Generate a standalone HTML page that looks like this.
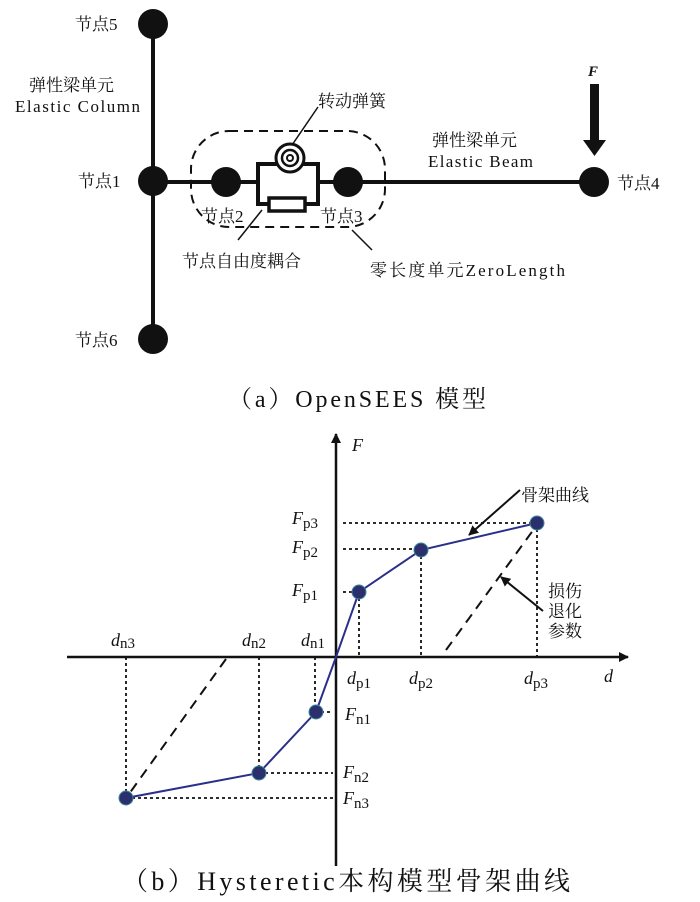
<!DOCTYPE html>
<html><head><meta charset="utf-8"><style>
html,body{margin:0;padding:0;background:#fff;}
svg{display:block;}
text{font-family:"Liberation Serif","Noto Serif CJK SC",serif;fill:#111;}
.it{font-style:italic;}
</style></head><body>
<svg width="700" height="902" viewBox="0 0 700 902" xmlns="http://www.w3.org/2000/svg">
<defs>
<marker id="ah" markerWidth="10" markerHeight="10" refX="9" refY="5" orient="auto" markerUnits="userSpaceOnUse"><path d="M0,0 L10,5 L0,10 Z" fill="#111"/></marker>
</defs>
<!-- Part a -->
<g stroke="#111" fill="none">
<line x1="153" y1="24" x2="153" y2="340" stroke-width="4"/>
<line x1="153" y1="182" x2="258" y2="182" stroke-width="4"/>
<line x1="318" y1="182" x2="594" y2="182" stroke-width="4"/>
<rect x="258" y="164" width="60" height="40" stroke-width="4"/>
<rect x="269" y="198" width="36" height="13" stroke-width="3.5" fill="#fff"/>
<rect x="191" y="131" width="194" height="96" rx="38" stroke-width="2" stroke-dasharray="9,6"/>
<line x1="262" y1="210" x2="238" y2="240" stroke-width="1.5"/>
<line x1="290" y1="148" x2="318" y2="107" stroke-width="1.5"/>
<line x1="352" y1="230" x2="372" y2="250" stroke-width="1.5"/>
</g>
<circle cx="290" cy="158" r="14" fill="#fff" stroke="#111" stroke-width="3"/>
<circle cx="290" cy="158" r="8" fill="none" stroke="#111" stroke-width="2.5"/>
<circle cx="290" cy="158" r="3" fill="none" stroke="#111" stroke-width="2"/>
<g fill="#111">
<circle cx="153" cy="24" r="15"/>
<circle cx="153" cy="181" r="15"/>
<circle cx="153" cy="339" r="15"/>
<circle cx="226" cy="182" r="15"/>
<circle cx="348" cy="182" r="15"/>
<circle cx="594" cy="182" r="15"/>
<rect x="590" y="84" width="9" height="58"/>
<path d="M583,140 L606,140 L594.5,156 Z"/>
</g>
<g font-size="17">
<text x="75" y="30">节点5</text>
<text x="78" y="187">节点1</text>
<text x="75" y="346">节点6</text>
<text x="29" y="91">弹性梁单元</text>
<text x="15" y="112" textLength="125">Elastic Column</text>
<text x="201" y="222">节点2</text>
<text x="320" y="222">节点3</text>
<text x="318" y="107">转动弹簧</text>
<text x="182" y="267">节点自由度耦合</text>
<text x="370" y="276" textLength="195">零长度单元ZeroLength</text>
<text x="432" y="146">弹性梁单元</text>
<text x="428" y="167" textLength="105">Elastic Beam</text>
<text x="617" y="189">节点4</text>
<text x="588" y="76" class="it" font-weight="bold" font-size="15">F</text>
</g>
<text x="228" y="407" font-size="24" textLength="258">（a）OpenSEES 模型</text>
<!-- Part b -->
<g stroke="#111" fill="none">
<line x1="67" y1="657" x2="628" y2="657" stroke-width="2.5" marker-end="url(#ah)"/>
<line x1="336" y1="866" x2="336" y2="434" stroke-width="2.5" marker-end="url(#ah)"/>
<g stroke-width="1.8" stroke-dasharray="3,3">
<line x1="343" y1="523" x2="537" y2="523"/>
<line x1="343" y1="549" x2="421" y2="549"/>
<line x1="343" y1="592" x2="359" y2="592"/>
<line x1="359" y1="592" x2="359" y2="657"/>
<line x1="421" y1="550" x2="421" y2="657"/>
<line x1="537" y1="523" x2="537" y2="657"/>
<line x1="126" y1="657" x2="126" y2="798"/>
<line x1="259" y1="657" x2="259" y2="773"/>
<line x1="315" y1="657" x2="315" y2="712"/>
<line x1="315" y1="712" x2="333" y2="712"/>
<line x1="259" y1="773" x2="333" y2="773"/>
<line x1="126" y1="798" x2="333" y2="798"/>
</g>
<g stroke-width="2" stroke-dasharray="10,7">
<line x1="446" y1="650" x2="534" y2="529"/>
<line x1="226" y1="659" x2="129" y2="794"/>
</g>
<polyline points="126,798 259,773 316,712 336,657 359,592 421,550 537,523" stroke="#2a2f8a" stroke-width="2"/>
<line x1="520" y1="490" x2="469" y2="535" stroke-width="2" marker-end="url(#ah)"/>
<line x1="543" y1="611" x2="501" y2="577" stroke-width="2" marker-end="url(#ah)"/>
</g>
<g fill="#2b2f6e" stroke="#3d8a9a" stroke-width="1">
<circle cx="359" cy="592" r="7"/>
<circle cx="421" cy="550" r="7"/>
<circle cx="537" cy="523" r="7"/>
<circle cx="316" cy="712" r="7"/>
<circle cx="259" cy="773" r="7"/>
<circle cx="126" cy="798" r="7"/>
</g>
<g font-size="18">
<text x="352" y="451" class="it">F</text>
<text x="604" y="682" class="it">d</text>
<text x="521" y="501" font-size="17">骨架曲线</text>
<text x="548" y="597" font-size="17">损伤</text>
<text x="548" y="617" font-size="17">退化</text>
<text x="548" y="637" font-size="17">参数</text>
<text x="292" y="524"><tspan class="it">F</tspan><tspan font-size="15" dy="4">p3</tspan></text>
<text x="292" y="553"><tspan class="it">F</tspan><tspan font-size="15" dy="4">p2</tspan></text>
<text x="292" y="596"><tspan class="it">F</tspan><tspan font-size="15" dy="4">p1</tspan></text>
<text x="345" y="720"><tspan class="it">F</tspan><tspan font-size="15" dy="4">n1</tspan></text>
<text x="343" y="778"><tspan class="it">F</tspan><tspan font-size="15" dy="4">n2</tspan></text>
<text x="343" y="804"><tspan class="it">F</tspan><tspan font-size="15" dy="4">n3</tspan></text>
<text x="111" y="646"><tspan class="it">d</tspan><tspan font-size="15" dy="2">n3</tspan></text>
<text x="242" y="646"><tspan class="it">d</tspan><tspan font-size="15" dy="2">n2</tspan></text>
<text x="301" y="646"><tspan class="it">d</tspan><tspan font-size="15" dy="2">n1</tspan></text>
<text x="347" y="684"><tspan class="it">d</tspan><tspan font-size="15" dy="4">p1</tspan></text>
<text x="409" y="684"><tspan class="it">d</tspan><tspan font-size="15" dy="4">p2</tspan></text>
<text x="524" y="684"><tspan class="it">d</tspan><tspan font-size="15" dy="4">p3</tspan></text>
</g>
<text x="122" y="890" font-size="26" textLength="448">（b）Hysteretic本构模型骨架曲线</text>
</svg>
</body></html>
